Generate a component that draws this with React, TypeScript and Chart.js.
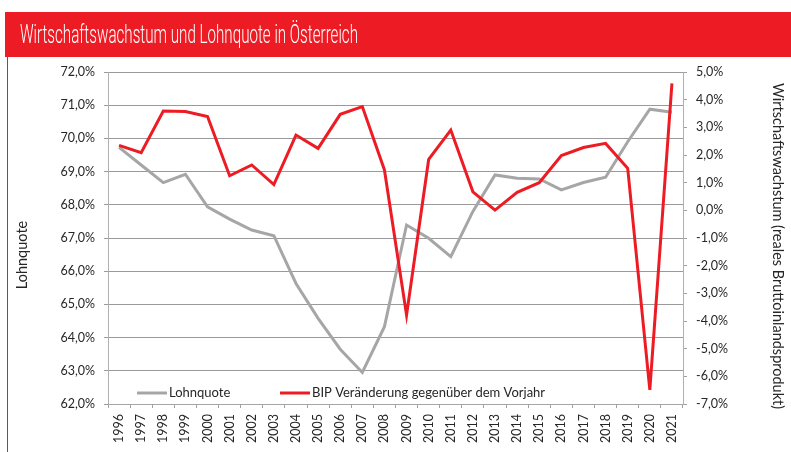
import React, { useEffect, useRef } from "react";
import { Chart, registerables } from "chart.js";

Chart.register(...registerables);

const years = ["1996","1997","1998","1999","2000","2001","2002","2003","2004","2005","2006","2007","2008","2009","2010","2011","2012","2013","2014","2015","2016","2017","2018","2019","2020","2021"];
const lohnquote = [69.73, 69.2, 68.67, 68.92, 67.94, 67.57, 67.24, 67.07, 65.63, 64.58, 63.65, 62.95, 64.33, 67.39, 66.99, 66.44, 67.8, 68.9, 68.8, 68.78, 68.45, 68.67, 68.83, 69.9, 70.88, 70.79];
const bipWachstum = [2.35, 2.08, 3.59, 3.57, 3.39, 1.25, 1.64, 0.93, 2.72, 2.24, 3.47, 3.75, 1.46, -3.78, 1.84, 2.9, 0.67, 0.01, 0.65, 1.0, 1.98, 2.27, 2.42, 1.52, -6.49, 4.59];

const titleText = "Wirtschaftswachstum und Lohnquote in Österreich";
const leftTitle = "Lohnquote";
const rightTitle = "Wirtschaftswachstum (reales Bruttoinlandsprodukt)";
const seriesLabels = ["Lohnquote", "BIP Veränderung gegenüber dem Vorjahr"];

const RED = "#ED1C24";
const GRAY = "#A6A6A6";
const TEXT = "#262626";
const FONT = "Lato";

const fmt = (v: number) => v.toFixed(1).replace(".", ",") + "%";

const decorPlugin = {
  id: "decor",
  beforeDraw(chart: any) {
    const ctx = chart.ctx;
    ctx.save();
    ctx.fillStyle = "#ffffff";
    ctx.fillRect(0, 0, chart.width, chart.height);
    ctx.fillStyle = RED;
    ctx.fillRect(5, 12, chart.width - 5, 45);
    ctx.fillRect(7, 57, 1, chart.height - 57);
    ctx.fillStyle = "#ffffff";
    ctx.font = "300 26px Roboto";
    ctx.textBaseline = "alphabetic";
    const w = ctx.measureText(titleText).width;
    ctx.translate(20, 43);
    ctx.scale(338 / w, 1);
    ctx.fillText(titleText, 0, 0);
    ctx.restore();
  },
  afterDraw(chart: any) {
    const ctx = chart.ctx;
    const a = chart.chartArea;
    ctx.save();
    ctx.fillStyle = TEXT;
    ctx.font = `14.5px ${FONT}`;
    ctx.textAlign = "center";
    ctx.textBaseline = "middle";
    ctx.save();
    ctx.translate(22, 255);
    ctx.rotate(-Math.PI / 2);
    ctx.fillText(leftTitle, 0, 0);
    ctx.restore();
    ctx.save();
    ctx.translate(778, 246);
    ctx.rotate(Math.PI / 2);
    ctx.fillText(rightTitle, 0, 0);
    ctx.restore();
    const ly = a.bottom - 11;
    ctx.font = `13px ${FONT}`;
    ctx.textAlign = "left";
    const items = [
      { x: a.left + 29, color: GRAY, label: seriesLabels[0] },
      { x: a.left + 172, color: RED, label: seriesLabels[1] },
    ];
    for (const it of items) {
      ctx.strokeStyle = it.color;
      ctx.lineWidth = 3;
      ctx.beginPath();
      ctx.moveTo(it.x, ly);
      ctx.lineTo(it.x + 30, ly);
      ctx.stroke();
      ctx.fillStyle = TEXT;
      ctx.fillText(it.label, it.x + 32, ly);
    }
    ctx.restore();
  },
};

export default function App() {
  const ref = useRef<HTMLCanvasElement | null>(null);
  useEffect(() => {
    if (!ref.current) return;
    const chart = new Chart(ref.current, {
      type: "line",
      data: {
        labels: years,
        datasets: [
          {
            label: seriesLabels[0],
            data: lohnquote,
            yAxisID: "y",
            borderColor: GRAY,
            backgroundColor: GRAY,
            borderWidth: 3,
            pointRadius: 0,
            tension: 0,
            order: 1,
          },
          {
            label: seriesLabels[1],
            data: bipWachstum,
            yAxisID: "y1",
            borderColor: RED,
            backgroundColor: RED,
            borderWidth: 3,
            pointRadius: 0,
            tension: 0,
            order: 0,
          },
        ],
      },
      options: {
        animation: false,
        responsive: false,
        layout: { padding: { top: 72, left: 0, right: 0, bottom: 0 } },
        plugins: { legend: { display: false }, tooltip: { enabled: false } },
        scales: {
          x: {
            type: "category",
            offset: true,
            grid: { offset: true, drawOnChartArea: false, drawTicks: true, tickLength: 4, color: "#a0a0a0" },
            border: { color: "#a6a6a6" },
            ticks: { minRotation: 90, maxRotation: 90, padding: 6, color: TEXT, font: { family: FONT, size: 12.5 }, autoSkip: false },
            afterFit: (s: any) => { s.height = 48; },
          },
          y: {
            position: "left",
            min: 62,
            max: 72,
            ticks: { stepSize: 1, padding: 9, color: TEXT, font: { family: FONT, size: 12.5 }, callback: (v: any) => fmt(Number(v)) },
            grid: { color: "#9a9a9a", tickLength: 4 },
            border: { color: "#b0b0b0" },
            afterFit: (s: any) => { s.width = 108; },
          },
          y1: {
            position: "right",
            min: -7,
            max: 5,
            ticks: { stepSize: 1, padding: 9, color: TEXT, font: { family: FONT, size: 12.5 }, callback: (v: any) => fmt(Number(v)) },
            grid: { drawOnChartArea: false, color: "#a0a0a0", tickLength: 4 },
            border: { color: "#b0b0b0" },
            afterFit: (s: any) => { s.width = 108; },
          },
        },
      },
      plugins: [decorPlugin],
    });
    return () => chart.destroy();
  }, []);
  return (
    <canvas
      ref={ref}
      width={791}
      height={452}
      style={{ position: "fixed", left: 0, top: 0, display: "block" }}
    />
  );
}
